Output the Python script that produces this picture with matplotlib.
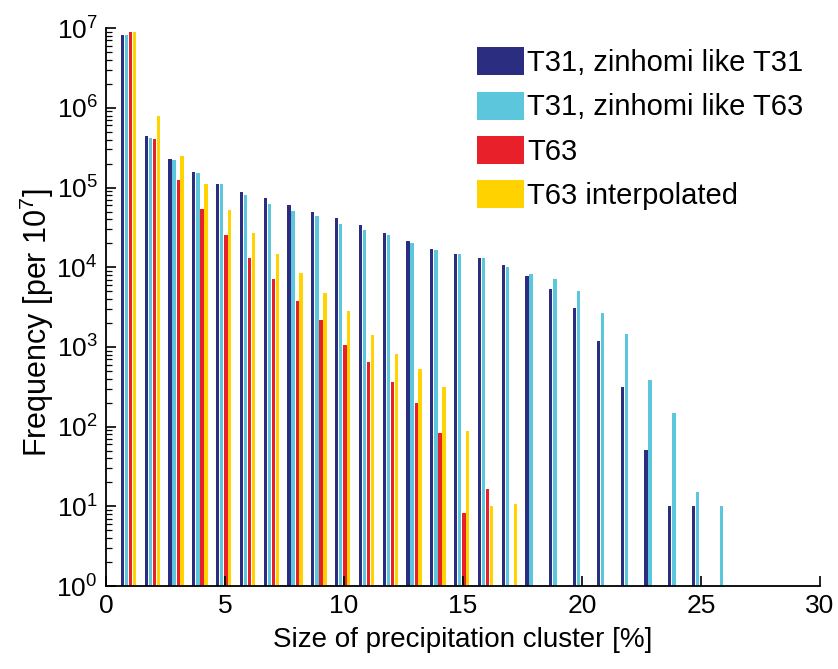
import numpy as np
import matplotlib
matplotlib.use('Agg')
import matplotlib.pyplot as plt

plt.rcParams['font.family'] = ['Liberation Sans', 'DejaVu Sans']
plt.rcParams['mathtext.fontset'] = 'custom'
plt.rcParams['mathtext.rm'] = 'Liberation Sans'
plt.rcParams['mathtext.it'] = 'Liberation Sans'

# cluster size [%]
sizes = np.arange(1, 27)

# frequency per 10^7 (nan = no bar)
t31_like_t31 = [8.1e6, 4.4e5, 2.25e5, 1.55e5, 1.1e5, 8.7e4, 7.3e4, 6.1e4, 4.9e4, 4.2e4,
                3.4e4, 2.7e4, 2.15e4, 1.7e4, 1.48e4, 1.29e4, 1.07e4, 7.8e3, 5.4e3, 3.1e3,
                1.2e3, 310, 51, 10, 10, np.nan]
t31_like_t63 = [8.1e6, 4.2e5, 2.2e5, 1.5e5, 1.1e5, 8.0e4, 6.3e4, 5.1e4, 4.4e4, 3.5e4,
                2.9e4, 2.5e4, 2.0e4, 1.65e4, 1.48e4, 1.29e4, 1.0e4, 8.3e3, 7.2e3, 5.1e3,
                2.7e3, 1.47e3, 380, 150, 15, 10]
t63 = [8.9e6, 4.1e5, 1.26e5, 5.3e4, 2.5e4, 1.3e4, 7.2e3, 3.8e3, 2.2e3, 1.05e3,
       650, 365, 200, 84, 8.3, 16.5, np.nan, np.nan, np.nan, np.nan,
       np.nan, np.nan, np.nan, np.nan, np.nan, np.nan]
t63_interp = [9.0e6, 8.0e5, 2.5e5, 1.12e5, 5.2e4, 2.7e4, 1.48e4, 8.5e3, 4.8e3, 2.8e3,
              1.4e3, 820, 530, 310, 89, 10, 10.7, np.nan, np.nan, np.nan,
              np.nan, np.nan, np.nan, np.nan, np.nan, np.nan]

labels = ['T31, zinhomi like T31', 'T31, zinhomi like T63', 'T63', 'T63 interpolated']
colors = ['#2a2d80', '#5cc6dc', '#e8202a', '#ffd200']
offsets = [-0.31, -0.14, 0.04, 0.2]
series = [t31_like_t31, t31_like_t63, t63, t63_interp]

fig = plt.figure(figsize=(8.38, 6.69), dpi=100)
ax = fig.add_axes([0.1265, 0.124, 0.852, 0.834])

for vals, lab, col, off in zip(series, labels, colors, offsets):
    ax.bar(sizes + off, vals, width=0.14, color=col, label=lab, linewidth=0)

ax.set_yscale('log')
ax.set_ylim(1, 1e7)
ax.set_xlim(0, 30)
ax.set_xticks(np.arange(0, 31, 5))
ax.set_yticks([10.0 ** k for k in range(8)])
ax.set_yticklabels([r'$10^{%d}$' % k for k in range(8)])

ax.spines['top'].set_visible(False)
ax.spines['right'].set_visible(False)
ax.spines['left'].set_linewidth(1.3)
ax.spines['bottom'].set_linewidth(1.3)
ax.tick_params(which='major', direction='in', length=7, width=1.2, labelsize=19, pad=6)
ax.tick_params(which='minor', direction='in', length=4, width=0.9)
ax.tick_params(axis='x', which='minor', bottom=False)

ax.set_xlabel('Size of precipitation cluster [%]', fontsize=20, labelpad=6)
ax.set_ylabel(r'Frequency [per 10$^7$]', fontsize=22)
ax.yaxis.set_label_coords(-0.07, 0.473)

ax.legend(loc='upper left', bbox_to_anchor=(477 / 838, 1 - 47 / 669),
          bbox_transform=fig.transFigure, frameon=False, fontsize=21,
          handlelength=1.6, handleheight=1.1, handletextpad=0.12, labelspacing=0.5,
          borderaxespad=0, borderpad=0)

fig.savefig('out.png', dpi=100, facecolor='white')
